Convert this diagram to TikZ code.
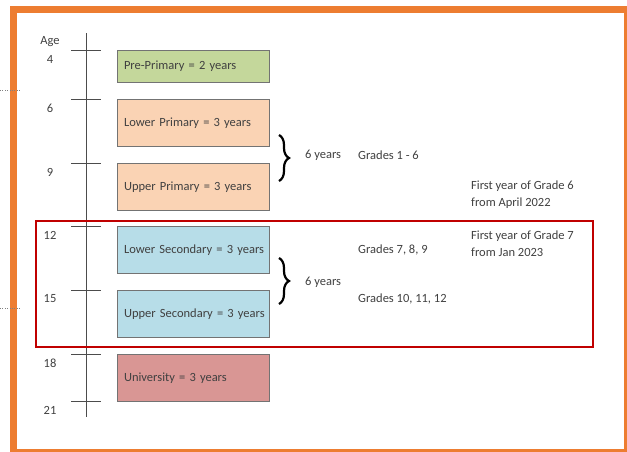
\documentclass[tikz,border=0pt]{standalone}
\usepackage{fontspec}
\setmainfont{Carlito}
\usepackage{tikz}
\usetikzlibrary{calc,decorations.pathreplacing}

\definecolor{frameorange}{HTML}{ED7D31}
\definecolor{boxgreen}{HTML}{C4D79B}
\definecolor{boxpeach}{HTML}{FAD3B4}
\definecolor{boxblue}{HTML}{B7DDE8}
\definecolor{boxred}{HTML}{D99694}
\definecolor{txtgray}{HTML}{404040}
\definecolor{darkred}{HTML}{C00000}

\tikzset{
  stage/.style={draw=black!55, line width=1pt, text width=146pt, align=left,
    inner xsep=3pt, anchor=north west, text=txtgray, font=\fontsize{12.5}{15}\selectfont,
    execute at begin node={\hspace*{3.5pt}}},
  note/.style={anchor=west, inner sep=0pt, text=txtgray, align=left,
    font=\fontsize{12.5}{17}\selectfont},
  agelabel/.style={text=txtgray, inner sep=0pt, font=\fontsize{12.5}{15}\selectfont}
}

\begin{document}
\begin{tikzpicture}[x=1pt,y=-1pt]
	\useasboundingbox (0,0) rectangle (627,451);
	\clip (0,0) rectangle (627,451);
	% frame and guides
	\draw[frameorange, line width=7pt] (13.5,9) rectangle (627,452);
	\draw[gray, dotted] (0,90) -- (21,90);
	\draw[gray, dotted] (0,308) -- (21,308);
	% age axis
	\coordinate (A0) at (86,33);
	\coordinate (A1) at (86,417);
	\draw[black!70, line width=0.9pt] (A0) -- (A1);
	\node[agelabel] (age) at (50,42) {Age};
	\foreach \a/\y in {4/50,6/99,9/163,12/226,15/290,18/354,21/401}{
		\draw[black!70, line width=0.9pt] (71,\y) -- (101,\y);
		\node[agelabel] (age\a) at (50,\y+9) {\a};
	}
	% stages
	\node[stage, fill=boxgreen, minimum height=32pt] (pre) at (117,50) {Pre-Primary = 2 years};
	\node[stage, fill=boxpeach, minimum height=47pt] (lowprim) at (117,99) {Lower Primary = 3 years};
	\node[stage, fill=boxpeach, minimum height=47pt] (upprim) at (117,163) {Upper Primary = 3 years};
	\node[stage, fill=boxblue, minimum height=47pt] (lowsec) at (117,226) {Lower Secondary = 3 years};
	\node[stage, fill=boxblue, minimum height=47pt] (upsec) at (117,290) {Upper Secondary = 3 years};
	\node[stage, fill=boxred, minimum height=47pt] (uni) at (117,354) {University = 3 years};
	% braces
	\draw[line width=2.2pt, decorate, decoration={brace, amplitude=10pt}] (279,135) -- (279,181);
	\draw[line width=2.2pt, decorate, decoration={brace, amplitude=10pt}] (279,258) -- (279,304);
	% notes
	\node[note] (prim6) at (305,155) {6 years};
	\node[note] (sec6) at (305,282) {6 years};
	\node[note] (gr1) at (358,155) {Grades 1 - 6};
	\node[note] (gr7) at (358,250) {Grades 7, 8, 9};
	\node[note] (gr10) at (358,299) {Grades 10, 11, 12};
	\node[note] (first6) at (471,194.5) {First year of Grade 6\\from April 2022};
	\node[note] (first7) at (471,243.5) {First year of Grade 7\\from Jan 2023};
	% secondary highlight
	\draw[darkred, line width=2pt] (36,221) rectangle (593,347);
\end{tikzpicture}
\end{document}
